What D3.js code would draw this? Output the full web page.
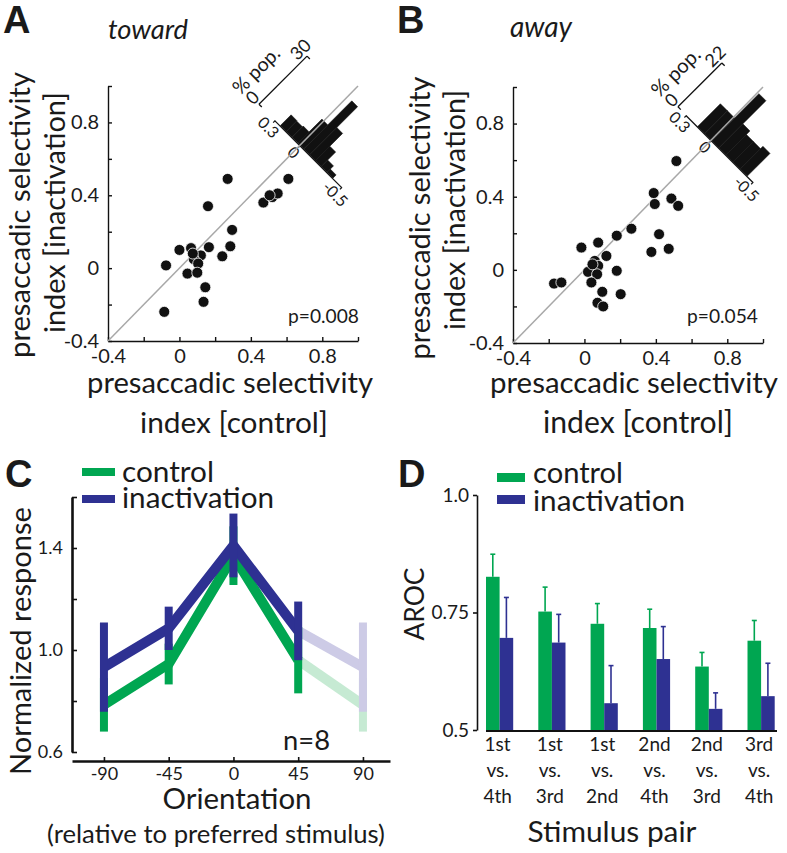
<!DOCTYPE html>
<html><head><meta charset="utf-8">
<script src="https://cdn.jsdelivr.net/npm/d3@7"></script>
<style>
body{margin:0;background:#fff;}
svg{display:block;font-family:Lato,"Open Sans",sans-serif;}
</style></head><body>
<svg id="fig" width="787" height="853"></svg>
<script>
// ---------------- DATA ----------------
// Panel A (toward)
const ctrlA  = [0.27, 0.61, 0.16, 0.47, 0.52, 0.55, 0.505, 0.295, 0.285, 0.24, 0.165, 0.0, 0.065, 0.12, 0.08, 0.105, 0.045, 0.10, -0.075, 0.145, 0.135, -0.085, 0.075];
const inactA = [0.49, 0.49, 0.34, 0.36, 0.39, 0.41, 0.40, 0.21, 0.12, 0.065, 0.115, 0.10, 0.11, 0.07, 0.05, 0.025, -0.03, -0.025, 0.015, -0.105, -0.185, -0.24, 0.08];
const histA_center = [0.20, 0.13, 0.06, -0.01, -0.08, -0.15, -0.22, -0.29, -0.36];
const histA_pct    = [6.7, 6.5, 7, 15, 30, 17, 9, 4, 2];
// Panel B (away)
const ctrlB  = [0.515, 0.388, 0.394, 0.487, 0.525, 0.263, 0.181, 0.418, 0.375, 0.472, -0.017, 0.077, 0.123, 0.058, 0.077, 0.02, 0.071, 0.039, 0.181, -0.17, -0.129, 0.10, 0.203, 0.073, 0.105, 0.045];
const inactB = [0.595, 0.42, 0.36, 0.39, 0.35, 0.225, 0.187, 0.195, 0.098, 0.115, 0.122, 0.149, 0.076, 0.049, 0.022, -0.011, -0.024, -0.069, -0.005, -0.075, -0.069, -0.12, -0.133, -0.18, -0.2, 0.03];
const histB_center = [0.12, 0.035, -0.05, -0.135, -0.22, -0.305, -0.39];
const histB_pct    = [11.4, 11.4, 23.6, 12, 10.2, 10.2, 11.4];
const scatterTicks = [-0.4, -0.2, 0, 0.2, 0.4, 0.6, 0.8, 1.0];
// Panel C
const orientations = [-90, -45, 0, 45, 90];
const respControl = [0.785, 0.945, 1.37, 0.96, 0.785];
const errControl  = [0.105, 0.08, 0.115, 0.13, 0.105];
const respInact   = [0.933, 1.085, 1.41, 1.075, 0.933];
const errInact    = [0.175, 0.085, 0.125, 0.115, 0.175];
const cYTicks = [0.6, 0.8, 1.0, 1.2, 1.4, 1.6];
// Panel D
const pairs = [["1st","vs.","4th"],["1st","vs.","3rd"],["1st","vs.","2nd"],["2nd","vs.","4th"],["2nd","vs.","3rd"],["3rd","vs.","4th"]];
const arocControl = [0.826, 0.752, 0.726, 0.717, 0.635, 0.69];
const semControl  = [0.048, 0.052, 0.043, 0.04, 0.03, 0.043];
const arocInact   = [0.696, 0.686, 0.557, 0.651, 0.545, 0.572];
const semInact    = [0.086, 0.06, 0.08, 0.069, 0.034, 0.07];
const dYTicks = [0.5, 0.75, 1.0];

const GREEN = "#00a651", BLUE = "#2e3192", LGREEN = "#c6ead3", LBLUE = "#cdcbe6";
const TXT = "#1a1a1a";
const svg = d3.select("#fig");

function addText(parent, str, x, y, size, o = {}) {
  const t = parent.append("text").attr("x", x).attr("y", y)
    .attr("font-size", size).attr("fill", TXT)
    .attr("text-anchor", o.anchor || "start").text(str);
  if (o.weight) t.attr("font-weight", o.weight);
  if (o.style) t.attr("font-style", o.style);
  if (o.family) t.attr("font-family", o.family);
  if (o.rotate !== undefined) t.attr("transform", `rotate(${o.rotate},${x},${y})`);
  if (o.width) {
    const L = t.node().getComputedTextLength();
    t.attr("font-size", (size * o.width / L).toFixed(2));
  }
  return t;
}
function styleAxis(g, fs, sw = 1.4) {
  g.attr("font-family", "Lato").attr("font-size", fs);
  g.selectAll(".domain").attr("stroke", "#111").attr("stroke-width", sw);
  g.selectAll(".tick line").attr("stroke", "#111").attr("stroke-width", Math.min(sw, 1.6));
  g.selectAll(".tick text").attr("fill", TXT);
}

// ---------------- A & B ----------------
function scatterPanel(cfg) {
  const g = svg.append("g");
  const x = d3.scaleLinear().domain([-0.4, 1.0]).range(cfg.xr);
  const y = d3.scaleLinear().domain([-0.4, 1.0]).range(cfg.yr);
  const fmt = v => (Math.round(v * 10) % 4 === 0) ? (v === 0 ? "0" : v.toFixed(1)) : "";
  styleAxis(g.append("g").attr("transform", `translate(0,${cfg.yr[0]})`)
    .call(d3.axisBottom(x).tickValues(scatterTicks).tickFormat(fmt).tickSize(-4).tickSizeOuter(0).tickPadding(8)), 20);
  styleAxis(g.append("g").attr("transform", `translate(${cfg.xr[0]},0)`)
    .call(d3.axisLeft(y).tickValues(scatterTicks).tickFormat(fmt).tickSize(-4).tickSizeOuter(0).tickPadding(9)), 20);

  // rotated histogram of (inactivation - control), zero on the diagonal
  const ox = x(cfg.hOrigin), oy = y(cfg.hOrigin);
  const hg = g.append("g").attr("transform", `translate(${ox},${oy}) rotate(45)`);
  const K = 118;
  const hx = d3.scaleLinear().domain([0.3, -0.5]).range([-0.3 * K, 0.5 * K]);
  const hy = d3.scaleLinear().domain([0, cfg.popMax]).range([0, -cfg.popLen]);
  const bw = cfg.binW;
  hg.selectAll("rect").data(cfg.hc).join("rect")
    .attr("x", c => hx(c + bw / 2))
    .attr("width", c => hx(c - bw / 2) - hx(c + bw / 2))
    .attr("y", (c, i) => hy(cfg.hp[i]))
    .attr("height", (c, i) => -hy(cfg.hp[i]))
    .attr("fill", "#111").attr("stroke", "#111").attr("stroke-width", 0.5);
  const ha = hg.append("g").call(d3.axisBottom(hx).tickValues([0.3, 0, -0.5])
    .tickFormat(d => d === 0 ? "0" : d.toFixed(1)).tickSize(3).tickSizeOuter(0).tickPadding(1));
  styleAxis(ha, 16, 1.2);
  // scale bar (% pop.)
  const bx = cfg.barX;
  hg.append("line").attr("x1", bx).attr("x2", bx).attr("y1", hy(0)).attr("y2", hy(cfg.popMax))
    .attr("stroke", "#111").attr("stroke-width", 1.3);
  [0, cfg.popMax].forEach(v => {
    hg.append("line").attr("x1", bx).attr("x2", bx + 4).attr("y1", hy(v)).attr("y2", hy(v))
      .attr("stroke", "#111").attr("stroke-width", 1.3);
    addText(hg, String(v), bx - 3, hy(v), 18, {anchor: "middle", rotate: -90});
  });
  addText(hg, "% pop.", bx - 19, 7, 19, {anchor: "start", rotate: -90, width: cfg.popW});

  // diagonal
  g.append("line").attr("x1", x(-0.4)).attr("y1", y(-0.4)).attr("x2", x(1.0)).attr("y2", y(1.0))
    .attr("stroke", "#a8a8a8").attr("stroke-width", 1.5);
  // dots
  g.selectAll("circle").data(cfg.ctrl).join("circle")
    .attr("cx", d => x(d)).attr("cy", (d, i) => y(cfg.inact[i])).attr("r", 5.5)
    .attr("fill", "#111").attr("stroke", "#fff").attr("stroke-width", 0.8);

  addText(g, cfg.p, cfg.pX, 323, 20, {anchor: "end", width: 71});
}
scatterPanel({xr: [108, 358], yr: [341, 86], ctrl: ctrlA, inact: inactA, hc: histA_center, hp: histA_pct, binW: 0.07,
  hOrigin: 0.675, popMax: 30, popLen: 68, barX: -58, popW: 58, p: "p=0.008", pX: 359});
scatterPanel({xr: [513, 763], yr: [343, 87], ctrl: ctrlB, inact: inactB, hc: histB_center, hp: histB_pct, binW: 0.085,
  hOrigin: 0.71, popMax: 22, popLen: 62, barX: -47, popW: 60, p: "p=0.054", pX: 758});

// labels A/B
addText(svg, "A", 3, 33, 38, {weight: "bold", family: "Liberation Sans, Arial"});
addText(svg, "B", 397, 33, 38, {weight: "bold", family: "Liberation Sans, Arial"});
addText(svg, "toward", 108, 39, 24, {style: "italic", width: 80});
addText(svg, "away", 510, 37, 24, {style: "italic", width: 62});
addText(svg, "presaccadic selectivity", 30, 215, 27, {anchor: "middle", rotate: -90, width: 286});
addText(svg, "index [inactivation]", 65, 212.5, 27, {anchor: "middle", rotate: -90, width: 241});
addText(svg, "presaccadic selectivity", 430, 218, 27, {anchor: "middle", rotate: -90, width: 283});
addText(svg, "index [inactivation]", 465, 210, 27, {anchor: "middle", rotate: -90, width: 240});
addText(svg, "presaccadic selectivity", 230, 393, 27, {anchor: "middle", width: 286});
addText(svg, "index [control]", 234, 433, 27, {anchor: "middle", width: 188});
addText(svg, "presaccadic selectivity", 634, 393, 27, {anchor: "middle", width: 288});
addText(svg, "index [control]", 638, 433, 27, {anchor: "middle", width: 190});

// ---------------- C ----------------
{
  const g = svg.append("g");
  const x = d3.scaleLinear().domain([-112.2, 108.8]).range([72, 390]);
  const y = d3.scaleLinear().domain([0.6, 1.6]).range([752, 497]);
  const xa = g.append("g").attr("transform", "translate(0,761)")
    .call(d3.axisBottom(x).tickValues(orientations).tickFormat(d => String(d))
      .tickSize(-4).tickSizeOuter(0).tickPadding(6));
  styleAxis(xa, 18, 2.6);
  const ya = g.append("g").attr("transform", "translate(72,0)")
    .call(d3.axisLeft(y).tickValues(cYTicks).tickSize(-5).tickSizeOuter(0).tickPadding(9)
      .tickFormat(v => [0.6, 1.0, 1.4].includes(v) ? v.toFixed(1) : ""));
  styleAxis(ya, 18, 2.6);

  const line = d3.line().x(d => x(d[0])).y(d => y(d[1]));
  function light(vals, errs, col) {
    const pts = orientations.map((o, i) => [o, vals[i]]);
    g.append("path").attr("d", line(pts.slice(3, 5))).attr("fill", "none")
      .attr("stroke", col).attr("stroke-width", 10);
    g.append("line").attr("x1", x(90)).attr("x2", x(90)).attr("y1", y(vals[4] - errs[4])).attr("y2", y(vals[4] + errs[4]))
      .attr("stroke", col).attr("stroke-width", 8);
    return pts;
  }
  const pc = light(respControl, errControl, LGREEN);
  const pi = light(respInact, errInact, LBLUE);
  function dark(pts, errs, col) {
    g.append("path").attr("d", line(pts.slice(0, 4))).attr("fill", "none")
      .attr("stroke", col).attr("stroke-width", 10).attr("stroke-linejoin", "miter");
    pts.slice(0, 4).forEach((p, i) => {
      g.append("line").attr("x1", x(p[0])).attr("x2", x(p[0]))
        .attr("y1", y(p[1] - errs[i])).attr("y2", y(p[1] + errs[i]))
        .attr("stroke", col).attr("stroke-width", 8);
    });
  }
  dark(pc, errControl, GREEN);
  dark(pi, errInact, BLUE);

  addText(svg, "C", 5, 487, 38, {weight: "bold", family: "Liberation Sans, Arial"});
  g.append("line").attr("x1", 82).attr("x2", 115).attr("y1", 472).attr("y2", 472).attr("stroke", GREEN).attr("stroke-width", 8);
  g.append("line").attr("x1", 82).attr("x2", 115).attr("y1", 499).attr("y2", 499).attr("stroke", BLUE).attr("stroke-width", 8);
  addText(g, "control", 122, 482, 26, {width: 92});
  addText(g, "inactivation", 122, 508, 26, {width: 152});
  addText(g, "Normalized response", 31, 641, 26, {anchor: "middle", rotate: -90, width: 268});
  addText(g, "Orientation", 237, 809, 27, {anchor: "middle", width: 149});
  addText(g, "(relative to preferred stimulus)", 216, 843, 24, {anchor: "middle", width: 338});
  addText(g, "n=8", 283, 750, 26, {width: 47});
}

// ---------------- D ----------------
{
  const g = svg.append("g");
  const xb = d3.scaleBand().domain(d3.range(pairs.length)).range([486, 774.7]).paddingInner(0.48).paddingOuter(0);
  const xs = d3.scaleBand().domain(["c", "i"]).range([0, xb.bandwidth()]);
  const y = d3.scaleLinear().domain([0.5, 1.0]).range([730, 495]);
  const ya = g.append("g").attr("transform", "translate(477,0)")
    .call(d3.axisLeft(y).tickValues(dYTicks).tickSize(4).tickSizeOuter(0).tickPadding(4)
      .tickFormat(v => v === 0.75 ? "0.75" : v.toFixed(1)));
  styleAxis(ya, 19, 1.6);
  g.append("line").attr("x1", 486).attr("x2", 777).attr("y1", y(0.5) + 1).attr("y2", y(0.5) + 1)
    .attr("stroke", "#111").attr("stroke-width", 2);

  function bars(vals, errs, key, col) {
    vals.forEach((v, i) => {
      const x0 = xb(i) + xs(key), w = xs.bandwidth(), cx = x0 + w / 2;
      g.append("rect").attr("x", x0).attr("width", w).attr("y", y(v)).attr("height", y(0.5) - y(v)).attr("fill", col);
      g.append("line").attr("x1", cx).attr("x2", cx).attr("y1", y(v)).attr("y2", y(v + errs[i]))
        .attr("stroke", col).attr("stroke-width", 1.6);
      g.append("line").attr("x1", cx - 2.5).attr("x2", cx + 2.5).attr("y1", y(v + errs[i])).attr("y2", y(v + errs[i]))
        .attr("stroke", col).attr("stroke-width", 1.6);
    });
  }
  bars(arocControl, semControl, "c", GREEN);
  bars(arocInact, semInact, "i", BLUE);

  pairs.forEach((p, i) => {
    const cx = xb(i) + xb.bandwidth() / 2 - 2;
    p.forEach((s, j) => addText(g, s, cx, 751 + j * 26, 19, {anchor: "middle"}));
  });

  addText(svg, "D", 398, 487, 38, {weight: "bold", family: "Liberation Sans, Arial"});
  g.append("rect").attr("x", 497).attr("y", 473).attr("width", 28).attr("height", 9).attr("fill", GREEN);
  g.append("rect").attr("x", 497).attr("y", 495).attr("width", 28).attr("height", 9).attr("fill", BLUE);
  addText(g, "control", 533, 483, 26, {width: 90});
  addText(g, "inactivation", 533, 511, 26, {width: 152});
  addText(g, "AROC", 424, 604, 24, {anchor: "middle", rotate: -90, width: 73});
  addText(g, "Stimulus pair", 612, 842, 26, {anchor: "middle", width: 169});
}
</script>
</body></html>
